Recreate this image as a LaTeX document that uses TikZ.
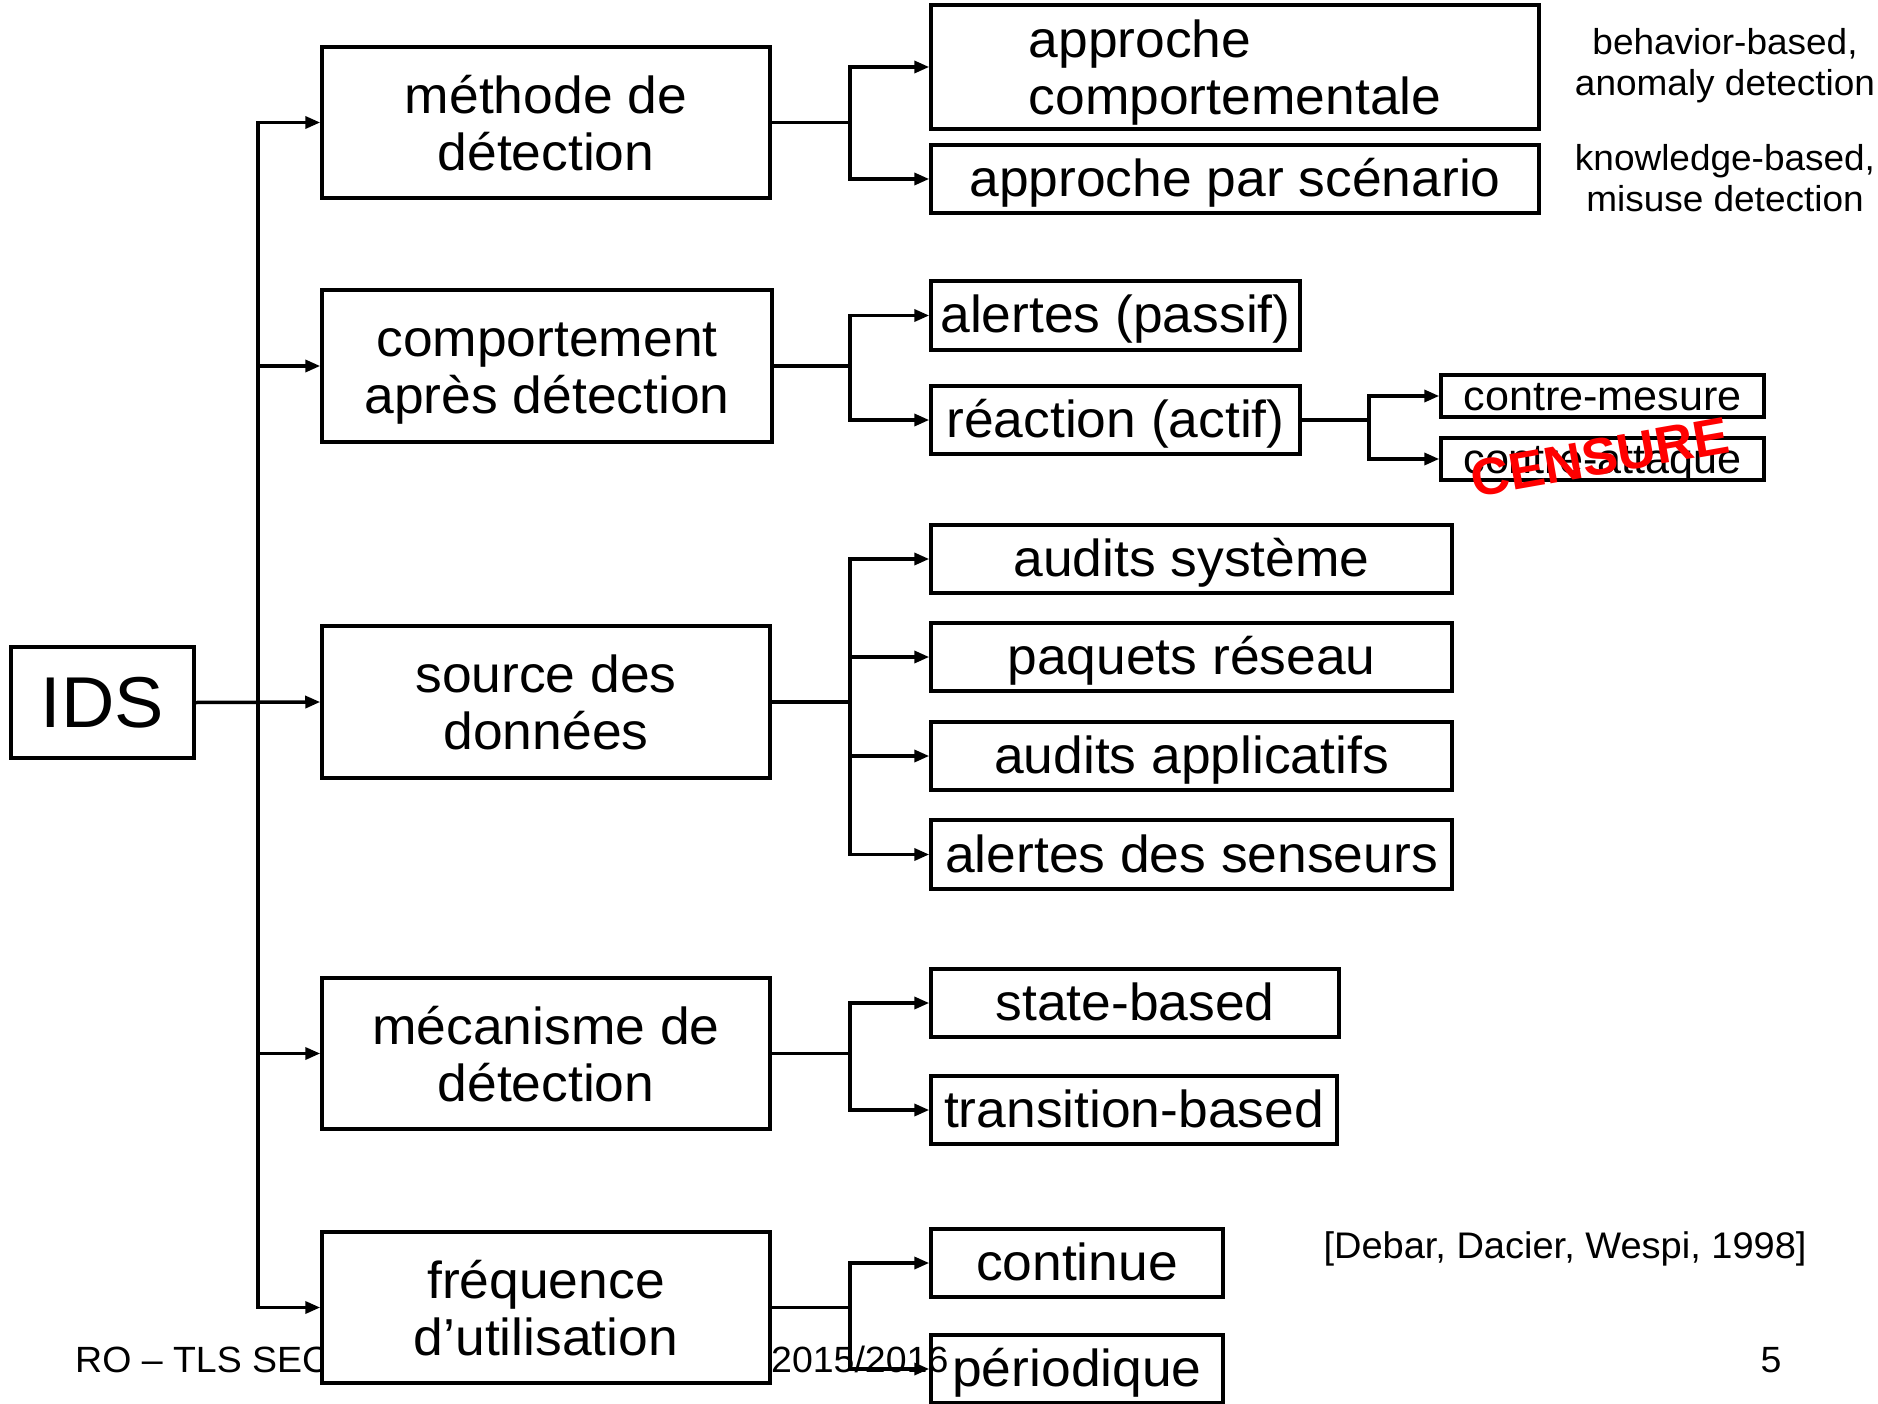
\documentclass[tikz,border=0pt]{standalone}
\usepackage{fontspec}
\setmainfont[FakeStretch=1.027]{Liberation Sans}
\usetikzlibrary{arrows.meta}
\newcommand\fl{\rule{0pt}{38pt}}
\newcommand\nd[1]{\raisebox{0pt}[\height][0pt]{#1}}
\begin{document}
\begin{tikzpicture}[x=1pt,y=-1pt,
 box/.style={draw, line width=3.5pt, fill=white, inner sep=0pt, align=center, font=\fontsize{52}{57}\selectfont},
 onebox/.style={box, text height=35pt, text depth=0pt},
 smallbox/.style={box, font=\fontsize{42}{46}\selectfont, text height=29pt, text depth=0pt},
 arr/.style={line width=3.5pt, -{Triangle[length=15pt,width=12pt]}},
 note/.style={align=center, inner sep=0pt, font=\fontsize{36}{41}\selectfont},
 foot/.style={inner sep=0pt, anchor=base west, font=\fontsize{36.5}{40}\selectfont}]
\useasboundingbox (0,0) rectangle (1878,1404);
% footer (behind boxes)
\node[foot] (ft1) at (75,1372) {RO – TLS SEC};
\node[foot, anchor=base] (ft3) at (1771,1372) {5};
% root
\node[box, minimum width=183pt, minimum height=111pt, font=\fontsize{72}{76}\selectfont] (ids) at (102.5,702.5) {IDS};
% second level
\node[box, minimum width=448pt, minimum height=151pt] (m1) at (546,122.5) {\fl méthode de\\\nd{détection}};
\node[box, minimum width=450pt, minimum height=152pt] (m2) at (547,366) {\fl comportement\\\nd{après détection}};
\node[box, minimum width=448pt, minimum height=152pt] (m3) at (546,702) {\fl source des\\\nd{données}};
\node[box, minimum width=448pt, minimum height=151pt] (m4) at (546,1053.5) {\fl mécanisme de\\\nd{détection}};
\node[box, minimum width=448pt, minimum height=151pt] (m5) at (546,1307.5) {\fl fréquence\\\nd{d’utilisation}};
% third level
\node[box, minimum width=608pt, minimum height=124pt, align=left] (a1) at (1235,67) {\fl approche\\\nd{comportementale}};
\node[onebox, minimum width=608pt, minimum height=68pt] (a2) at (1235,179) {approche par scénario};
\node[onebox, minimum width=369pt, minimum height=69pt] (b1) at (1115.5,315.5) {alertes (passif)};
\node[onebox, minimum width=369pt, minimum height=68pt] (b2) at (1115.5,420) {réaction (actif)};
\node[smallbox, minimum width=323pt, minimum height=42pt] (c1) at (1602.5,396) {contre-mesure};
\node[smallbox, minimum width=323pt, minimum height=42pt] (c2) at (1602.5,459) {contre-attaque};
\node[onebox, minimum width=521pt, minimum height=68pt] (d1) at (1191.5,559) {audits système};
\node[onebox, minimum width=521pt, minimum height=68pt] (d2) at (1191.5,657) {paquets réseau};
\node[onebox, minimum width=521pt, minimum height=68pt] (d3) at (1191.5,756) {audits applicatifs};
\node[onebox, minimum width=521pt, minimum height=69pt] (d4) at (1191.5,854.5) {alertes des senseurs};
\node[onebox, minimum width=408pt, minimum height=68pt] (e1) at (1135,1003) {state-based};
\node[onebox, minimum width=406pt, minimum height=68pt] (e2) at (1134,1110) {transition-based};
\node[onebox, minimum width=292pt, minimum height=68pt] (f1) at (1077,1263) {continue};
\node[onebox, minimum width=292pt, minimum height=68pt] (f2) at (1077,1369) {périodique};
% footer part drawn over the boxes
\node[foot] (ft2) at (771,1372) {2015/2016};
% notes
\node[note] (n1) at (1725,66) {behavior-based,\\anomaly detection};
\node[note] (n2) at (1725,178) {knowledge-based,\\misuse detection};
\node[note, font=\fontsize{37}{40}\selectfont] (ref) at (1565,1249) {[Debar, Dacier, Wespi, 1998]};
% branch coordinates
\coordinate (tx) at (258,0);
\coordinate (bx) at (850,0);
\coordinate (cx) at (1369,0);
% trunk
\draw[arr] (ids.east) -- (m3.west);
\draw[arr] (ids.east -| tx) |- (m1.west);
\draw[arr] (ids.east -| tx) |- (m2.west);
\draw[arr] (ids.east -| tx) |- (m4.west);
\draw[arr] (ids.east -| tx) |- (m5.west);
% branches
\draw[arr] (m1.east) -- (m1.east -| bx) |- (a1.west);
\draw[arr] (m1.east) -- (m1.east -| bx) |- (a2.west);
\draw[arr] (m2.east) -- (m2.east -| bx) |- (b1.west);
\draw[arr] (m2.east) -- (m2.east -| bx) |- (b2.west);
\draw[arr] (b2.east) -- (b2.east -| cx) |- (c1.west);
\draw[arr] (b2.east) -- (b2.east -| cx) |- (c2.west);
\draw[arr] (m3.east) -- (m3.east -| bx) |- (d1.west);
\draw[arr] (m3.east) -- (m3.east -| bx) |- (d2.west);
\draw[arr] (m3.east) -- (m3.east -| bx) |- (d3.west);
\draw[arr] (m3.east) -- (m3.east -| bx) |- (d4.west);
\draw[arr] (m4.east) -- (m4.east -| bx) |- (e1.west);
\draw[arr] (m4.east) -- (m4.east -| bx) |- (e2.west);
\draw[arr] (m5.east) -- (m5.east -| bx) |- (f1.west);
\draw[arr] (m5.east) -- (m5.east -| bx) |- (f2.west);
% censure stamp
\node[text=red, inner sep=0pt, rotate=10, font=\fontsize{52}{56}\bfseries] (cens) at (1600,457) {CENSURE};
\end{tikzpicture}
\end{document}
